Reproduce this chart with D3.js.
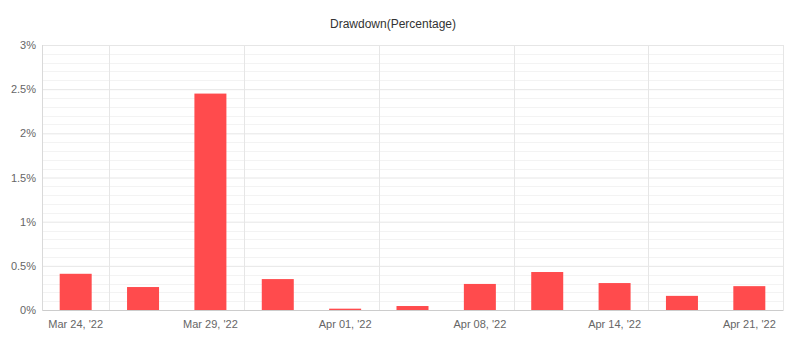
<!DOCTYPE html>
<html>
<head>
<meta charset="utf-8">
<script src="https://cdn.jsdelivr.net/npm/d3@7/dist/d3.min.js"></script>
<style>
  html, body { margin: 0; padding: 0; background: #fff; }
  svg { display: block; font-family: "Liberation Sans", Arial, sans-serif; }
</style>
</head>
<body>
<svg id="chart" width="790" height="341"></svg>
<script>
// Weekly drawdown, in percent
const categories = ["Mar 24, '22", "Mar 25, '22", "Mar 29, '22", "Mar 31, '22", "Apr 01, '22", "Apr 05, '22",
                    "Apr 08, '22", "Apr 12, '22", "Apr 14, '22", "Apr 19, '22", "Apr 21, '22"];
const drawdown = [0.41, 0.26, 2.45, 0.35, 0.015, 0.045, 0.295, 0.43, 0.305, 0.16, 0.27];
const yTicks = [0, 0.5, 1, 1.5, 2, 2.5, 3];
const title = "Drawdown(Percentage)";

const svg = d3.select("#chart");
const W = 790, H = 341;
const m = { top: 45, right: 7, bottom: 31, left: 42 };
const iw = W - m.left - m.right, ih = H - m.top - m.bottom;

const x = d3.scaleBand().domain(categories).range([0, iw]).paddingInner(0.525).paddingOuter(0.2625);
const y = d3.scaleLinear().domain([0, 3]).range([ih, 0]);

const g = svg.append("g").attr("transform", `translate(${m.left},${m.top})`);

// minor horizontal grid
g.append("g").selectAll("line")
  .data(d3.range(0, 3.0001, 0.1).filter(v => Math.abs(v * 2 - Math.round(v * 2)) > 1e-6))
  .join("line")
  .attr("x1", 0).attr("x2", iw)
  .attr("y1", d => Math.round(y(d)) + 0.5).attr("y2", d => Math.round(y(d)) + 0.5)
  .attr("stroke", "#f3f3f3");

// major horizontal grid via axis
const yAxis = g.append("g")
  .call(d3.axisLeft(y).tickValues(yTicks).tickSize(-iw).tickPadding(6).tickFormat(d => d + "%"));
yAxis.select(".domain").remove();
yAxis.selectAll(".tick line").attr("stroke", "#e6e6e6");
yAxis.selectAll(".tick text").attr("fill", "#666").style("font-size", "11px");

// vertical grid at every other band boundary
const step = x.step();
const vLines = d3.range(0, categories.length + 1).filter(i => i % 2 === 1 || i === 0);
g.append("g").selectAll("line")
  .data(vLines)
  .join("line")
  .attr("x1", i => Math.round(i * step) + 0.5).attr("x2", i => Math.round(i * step) + 0.5)
  .attr("y1", 0).attr("y2", ih)
  .attr("stroke", i => i === 0 ? "#d9d9d9" : "#e6e6e6");

// bars
g.append("g").selectAll("rect")
  .data(drawdown)
  .join("rect")
  .attr("x", (d, i) => x(categories[i]))
  .attr("y", d => y(d))
  .attr("width", x.bandwidth())
  .attr("height", d => ih - y(d))
  .attr("fill", "#ff4b4d");

// x axis, labelling every other category
const xAxis = g.append("g")
  .attr("transform", `translate(0,${ih})`)
  .call(d3.axisBottom(x).tickValues(categories.filter((c, i) => i % 2 === 0)).tickSize(0).tickPadding(10));
xAxis.select(".domain").attr("stroke", "#cccccc");
xAxis.selectAll(".tick text").attr("fill", "#666").style("font-size", "11px");

// title
svg.append("text")
  .attr("x", 393).attr("y", 28)
  .attr("text-anchor", "middle")
  .attr("fill", "#333")
  .style("font-size", "12px")
  .style("font-weight", "500")
  .text(title);
</script>
</body>
</html>
